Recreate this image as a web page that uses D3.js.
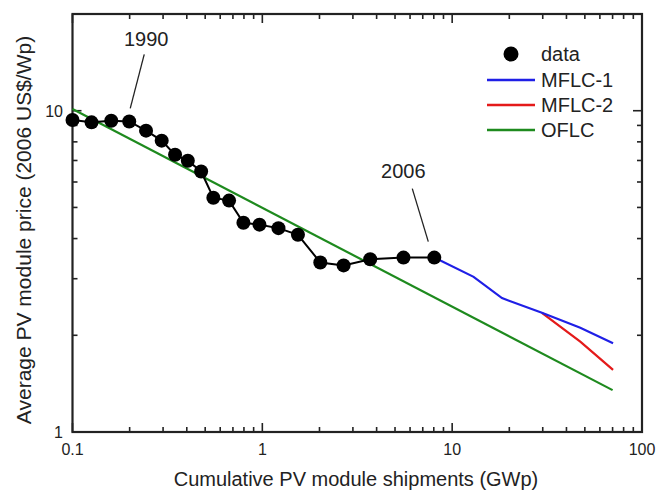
<!DOCTYPE html>
<html>
<head>
<meta charset="utf-8">
<script src="https://cdn.jsdelivr.net/npm/d3@7"></script>
<style>
  body { margin: 0; background: #fff; }
  text { font-family: "Liberation Sans", Arial, sans-serif; fill: #222; }
</style>
</head>
<body>
<svg id="chart" width="657" height="490"></svg>
<script>
// cumulative shipments (GWp) and price (2006 US$/Wp), 1989..2006
const shipments = [0.1, 0.126, 0.16, 0.199, 0.244, 0.295, 0.347, 0.405, 0.476, 0.552, 0.668, 0.795, 0.966, 1.216, 1.54, 2.02, 2.68, 3.70, 5.54, 8.05];
const prices    = [9.36, 9.2, 9.31, 9.26, 8.67, 8.07, 7.29, 6.99, 6.47, 5.36, 5.25, 4.48, 4.42, 4.31, 4.11, 3.37, 3.30, 3.45, 3.49, 3.49];

const mflc1X = [8.05, 12.97, 18.3, 29.7, 47.3, 70.4];
const mflc1Y = [3.49, 3.04, 2.61, 2.35, 2.11, 1.89];
const mflc2X = [29.7, 47.3, 70.4];
const mflc2Y = [2.35, 1.91, 1.56];
const oflcX = [0.1, 70];
const oflcY = [10.12, 1.35];

const xTicks = [0.1, 1, 10, 100];
const yTicks = [1, 10];
const seriesNames = ["data", "MFLC-1", "MFLC-2", "OFLC"];
const colors = { "MFLC-1": "#1f1fe6", "MFLC-2": "#e41a1a", "OFLC": "#1e8a1e" };

const svg = d3.select("#chart");
const pLeft = 72.5, pRight = 642, pTop = 14, pBottom = 432;

const x = d3.scaleLog().domain([0.1, 100]).range([pLeft, pRight]);
const y = d3.scaleLog().domain([1, 20]).range([pBottom, pTop]);

// minor tick values
const xMinor = [];
[0.1, 1, 10].forEach(d => { for (let k = 2; k <= 9; k++) xMinor.push(d * k); });
const yMinor = [];
[1, 10].forEach(d => { for (let k = 2; k <= 9; k++) if (d * k < 20) yMinor.push(d * k); });

const tickCol = "#222";
const g = svg.append("g");

function ticks(vals, len, side) {
  vals.forEach(v => {
    if (side === "bottom") g.append("line").attr("x1", x(v)).attr("x2", x(v)).attr("y1", pBottom).attr("y2", pBottom - len);
    if (side === "top") g.append("line").attr("x1", x(v)).attr("x2", x(v)).attr("y1", pTop).attr("y2", pTop + len);
    if (side === "left") g.append("line").attr("y1", y(v)).attr("y2", y(v)).attr("x1", pLeft).attr("x2", pLeft + len);
    if (side === "right") g.append("line").attr("y1", y(v)).attr("y2", y(v)).attr("x1", pRight).attr("x2", pRight - len);
  });
}
ticks(xTicks, 9, "bottom"); ticks(xMinor, 5, "bottom");
ticks(xTicks, 9, "top"); ticks(xMinor, 5, "top");
ticks(yTicks, 9, "left"); ticks(yMinor, 5, "left");
ticks(yTicks, 9, "right"); ticks(yMinor, 5, "right");
g.selectAll("line").attr("stroke", tickCol).attr("stroke-width", 1.6);

// frame
svg.append("rect").attr("x", pLeft).attr("y", pTop).attr("width", pRight - pLeft).attr("height", pBottom - pTop)
  .attr("fill", "none").attr("stroke", tickCol).attr("stroke-width", 2.2);

// tick labels
svg.selectAll(".xl").data(xTicks).enter().append("text")
  .attr("x", d => x(d)).attr("y", 455).attr("text-anchor", "middle").attr("font-size", 16)
  .text(d => d);
svg.selectAll(".yl").data(yTicks).enter().append("text")
  .attr("x", 63).attr("y", d => y(d) + 6).attr("text-anchor", "end").attr("font-size", 16)
  .text(d => d);

// axis titles
svg.append("text").attr("x", 356).attr("y", 486).attr("text-anchor", "middle").attr("font-size", 20)
  .text("Cumulative PV module shipments (GWp)");
svg.append("text").attr("transform", "translate(31,230) rotate(-90)").attr("text-anchor", "middle").attr("font-size", 21)
  .text("Average PV module price (2006 US$/Wp)");

const line = d3.line().x(d => x(d[0])).y(d => y(d[1]));

svg.append("path").datum(d3.zip(oflcX, oflcY)).attr("d", line)
  .attr("fill", "none").attr("stroke", colors["OFLC"]).attr("stroke-width", 2.2);
svg.append("path").datum(d3.zip(mflc2X, mflc2Y)).attr("d", line)
  .attr("fill", "none").attr("stroke", colors["MFLC-2"]).attr("stroke-width", 2.2);
svg.append("path").datum(d3.zip(mflc1X, mflc1Y)).attr("d", line)
  .attr("fill", "none").attr("stroke", colors["MFLC-1"]).attr("stroke-width", 2.2);

const pts = d3.zip(shipments, prices);
svg.append("path").datum(pts).attr("d", line)
  .attr("fill", "none").attr("stroke", "#000").attr("stroke-width", 2);
svg.selectAll(".pt").data(pts).enter().append("circle")
  .attr("cx", d => x(d[0])).attr("cy", d => y(d[1])).attr("r", 7).attr("fill", "#000");

// annotations (1990 = 4th point, 2006 = last point)
const p90 = pts[3], p06 = pts[pts.length - 1];
svg.append("line").attr("x1", x(p90[0]) + 1).attr("y1", y(p90[1]) - 13)
  .attr("x2", x(p90[0]) + 15).attr("y2", y(p90[1]) - 67).attr("stroke", "#222").attr("stroke-width", 1.3);
svg.append("text").attr("x", x(p90[0]) + 17).attr("y", y(p90[1]) - 75).attr("text-anchor", "middle").attr("font-size", 20).text("1990");
svg.append("line").attr("x1", x(p06[0]) - 6).attr("y1", y(p06[1]) - 16)
  .attr("x2", x(p06[0]) - 22).attr("y2", y(p06[1]) - 69).attr("stroke", "#222").attr("stroke-width", 1.3);
svg.append("text").attr("x", x(p06[0]) - 31).attr("y", y(p06[1]) - 80).attr("text-anchor", "middle").attr("font-size", 20).text("2006");

// legend
const lg = svg.append("g").attr("transform", "translate(487,54)");
seriesNames.forEach((name, i) => {
  const yy = i === 0 ? 0 : 26 + (i - 1) * 25;
  if (name === "data") {
    lg.append("circle").attr("cx", 24).attr("cy", yy).attr("r", 7.5).attr("fill", "#000");
  } else {
    lg.append("line").attr("x1", 0).attr("x2", 48).attr("y1", yy).attr("y2", yy)
      .attr("stroke", colors[name]).attr("stroke-width", 2.4);
  }
  lg.append("text").attr("x", 54).attr("y", yy + 7).attr("font-size", 20).text(name);
});
</script>
</body>
</html>
